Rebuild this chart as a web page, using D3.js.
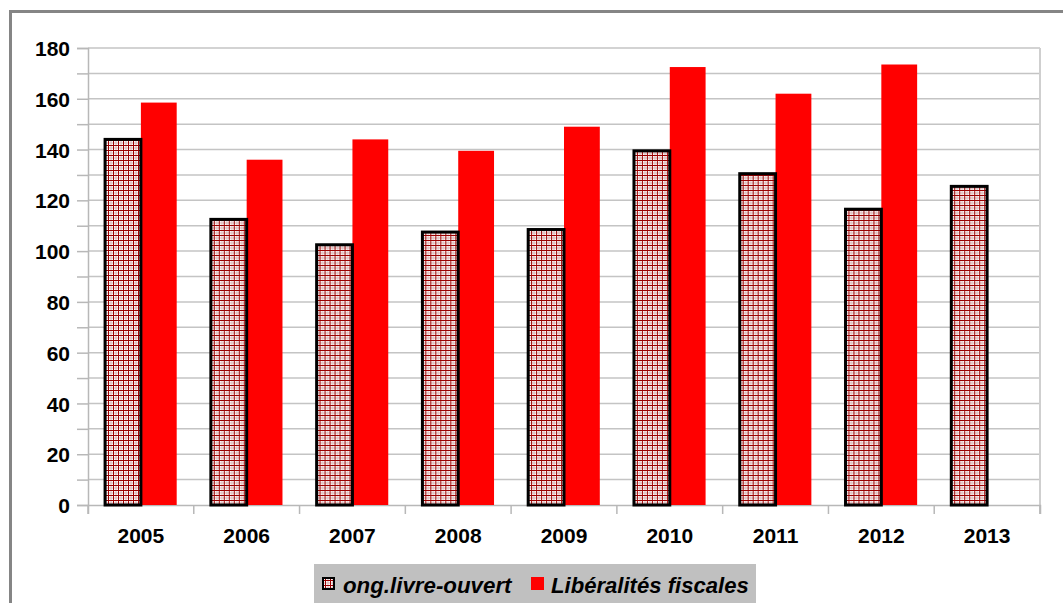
<!DOCTYPE html>
<html>
<head>
<meta charset="utf-8">
<script src="https://cdn.jsdelivr.net/npm/d3@7/dist/d3.min.js"></script>
<style>
  html, body { margin: 0; padding: 0; background: #fff; }
  svg { display: block; font-family: "Liberation Sans", Arial, sans-serif; }
</style>
</head>
<body>
<svg id="chart" width="1063" height="603"></svg>
<script>
// Years on the category axis
const years = ["2005", "2006", "2007", "2008", "2009", "2010", "2011", "2012", "2013"];
// Series values (null = no data for that year)
const ongLivreOuvert = [144, 112.5, 102.5, 107.5, 108.5, 139.5, 130.5, 116.5, 125.5];
const liberalitesFiscales = [158.5, 136, 144, 139.5, 149, 172.5, 162, 173.5, null];
const seriesNames = ["ong.livre-ouvert", "Libéralités fiscales"];
const yTicks = [0, 20, 40, 60, 80, 100, 120, 140, 160, 180];
const yMinorTicks = [10, 30, 50, 70, 90, 110, 130, 150, 170];

const svg = d3.select("#chart");
const W = 1063, H = 603;
const plot = { left: 88, right: 1040, top: 48, bottom: 505 };

// Hatched fill: fine dark-red grid on white
const defs = svg.append("defs");
const pat = defs.append("pattern")
  .attr("id", "grid-hatch")
  .attr("patternUnits", "userSpaceOnUse")
  .attr("width", 5).attr("height", 5);
pat.append("rect").attr("width", 5).attr("height", 5).attr("fill", "#fff");
pat.append("rect").attr("x", 2.5).attr("y", 0).attr("width", 1).attr("height", 5).attr("fill", "#d9b0b0");
pat.append("rect").attr("x", 0).attr("y", 2.5).attr("width", 5).attr("height", 1).attr("fill", "#d9b0b0");
pat.append("rect").attr("x", 0).attr("y", 0).attr("width", 1).attr("height", 5).attr("fill", "#9a0000");
pat.append("rect").attr("x", 0).attr("y", 0).attr("width", 5).attr("height", 1).attr("fill", "#9a0000");

// Outer frame
svg.append("rect")
  .attr("x", 10.5).attr("y", 11.5)
  .attr("width", W + 20).attr("height", H + 20)
  .attr("fill", "#fff")
  .attr("stroke", "#858585").attr("stroke-width", 3);

const x = d3.scaleBand().domain(years).range([plot.left, plot.right]).paddingInner(0).paddingOuter(0);
const inner = d3.scaleBand().domain(seriesNames).range([0, x.bandwidth()]).paddingInner(0).paddingOuter(0.477);
const y = d3.scaleLinear().domain([0, 180]).range([plot.bottom, plot.top]);

// Horizontal gridlines (major + minor)
const gridVals = yTicks.concat(yMinorTicks).filter(v => v > 0);
svg.append("g").selectAll("line").data(gridVals).join("line")
  .attr("x1", plot.left).attr("x2", plot.right)
  .attr("y1", d => y(d)).attr("y2", d => y(d))
  .attr("stroke", "#c4c4c4").attr("stroke-width", 1.5);

// Right edge of the plot area
svg.append("line")
  .attr("x1", plot.right).attr("x2", plot.right)
  .attr("y1", plot.top).attr("y2", plot.bottom + 9)
  .attr("stroke", "#cfcfcf").attr("stroke-width", 2);

// Y axis
const yAxis = d3.axisLeft(y).tickValues(yTicks.concat(yMinorTicks).sort((a, b) => a - b))
  .tickSize(11).tickFormat(d => yTicks.includes(d) ? d : "");
const gy = svg.append("g").attr("transform", `translate(${plot.left},0)`).call(yAxis);
gy.select(".domain").attr("stroke", "#b8b8b8").attr("stroke-width", 1.5);
gy.selectAll(".tick line").attr("stroke", "#b8b8b8").attr("stroke-width", 1.5);
gy.selectAll(".tick text")
  .attr("x", -18).attr("dy", "0.36em")
  .attr("fill", "#000").attr("font-size", 21).attr("font-weight", "bold")
  .attr("font-family", "Liberation Sans, Arial, sans-serif");

// X axis
const xAxis = d3.axisBottom(x).tickSize(9).tickFormat("");
const gx = svg.append("g").attr("transform", `translate(0,${plot.bottom})`).call(xAxis);
gx.select(".domain").attr("stroke", "#b8b8b8").attr("stroke-width", 1.5);
// category separators at band edges
gx.selectAll(".tick").remove();
gx.selectAll("line.sep").data(years.concat(["end"])).join("line")
  .attr("class", "sep")
  .attr("x1", (d, i) => plot.left + i * x.bandwidth())
  .attr("x2", (d, i) => plot.left + i * x.bandwidth())
  .attr("y1", 0).attr("y2", 9)
  .attr("stroke", "#b8b8b8").attr("stroke-width", 1.5);
gx.selectAll("text.lbl").data(years).join("text")
  .attr("class", "lbl")
  .attr("x", d => x(d) + x.bandwidth() / 2)
  .attr("y", 38)
  .attr("text-anchor", "middle")
  .attr("font-size", 21).attr("font-weight", "bold").attr("fill", "#000")
  .text(d => d);

// Bars
const rows = years.map((yr, i) => ({ year: yr, a: ongLivreOuvert[i], b: liberalitesFiscales[i] }));
const groups = svg.append("g").selectAll("g").data(rows).join("g")
  .attr("transform", d => `translate(${x(d.year)},0)`);

groups.filter(d => d.b != null).append("rect")
  .attr("x", inner(seriesNames[1]))
  .attr("y", d => y(d.b))
  .attr("width", inner.bandwidth())
  .attr("height", d => y(0) - y(d.b))
  .attr("fill", "#ff0000");

groups.filter(d => d.a != null).append("rect")
  .attr("x", inner(seriesNames[0]))
  .attr("y", d => y(d.a))
  .attr("width", inner.bandwidth())
  .attr("height", d => y(0) - y(d.a))
  .attr("fill", "url(#grid-hatch)")
  .attr("stroke", "#000").attr("stroke-width", 3);

// Legend
const lg = svg.append("g");
lg.append("rect").attr("x", 314).attr("y", 564).attr("width", 442).attr("height", 50).attr("fill", "#c0c0c0");
lg.append("rect").attr("x", 323).attr("y", 578).attr("width", 11).attr("height", 11)
  .attr("fill", "url(#grid-hatch)").attr("stroke", "#000").attr("stroke-width", 2);
lg.append("text").attr("x", 343).attr("y", 593)
  .attr("font-size", 22.3).attr("font-weight", "bold").attr("font-style", "italic").attr("fill", "#000")
  .text(seriesNames[0]);
lg.append("rect").attr("x", 531).attr("y", 577).attr("width", 13).attr("height", 13).attr("fill", "#ff0000");
lg.append("text").attr("x", 551).attr("y", 593)
  .attr("font-size", 22.1).attr("font-weight", "bold").attr("font-style", "italic").attr("fill", "#000")
  .text(seriesNames[1]);
</script>
</body>
</html>
